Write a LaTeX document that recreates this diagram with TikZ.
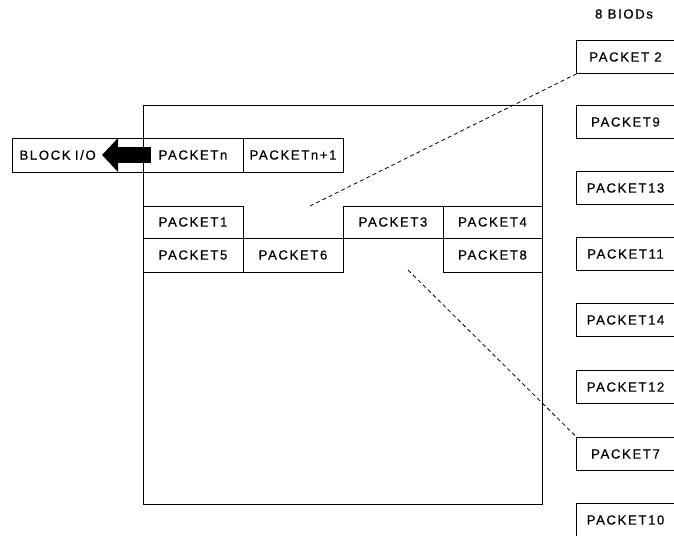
\documentclass[tikz,border=0pt]{standalone}
\usepackage{fontspec}
\setmainfont{Liberation Sans}[LetterSpace=12, FakeBold=0.5]
\usetikzlibrary{arrows.meta}
\begin{document}
\begin{tikzpicture}[x=1pt,y=-1pt,
  every node/.style={font=\fontsize{13.2}{15}\selectfont, inner sep=0pt},
  cell/.style={draw, line width=0.9pt, minimum width=100pt, minimum height=#1},
  cell/.default=34pt,
  side/.style={minimum width=97pt, minimum height=33pt},
  edge/.style={line width=0.9pt},
  dline/.style={dashed, line width=0.8pt, dash pattern=on 4pt off 3pt}]
\useasboundingbox (0,0) rectangle (674,535);
% big frame
\node[draw, line width=0.9pt, minimum width=399pt, minimum height=399pt] (mem) at (342.5,304.5) {};
% top row
\node[cell, text width=116pt, inner xsep=7.5pt, align=left] (blk) at (77.5,155) {BLOCK I/O};
\node[cell] (pn) at (193,155) {PACKETn};
\node[cell] (pn1) at (293,155) {PACKETn+1};
% middle rows
\node[cell=32pt] (p1) at (193,222) {PACKET1};
\node[cell=32pt] (p3) at (393,222) {PACKET3};
\node[cell=32pt, minimum width=99pt] (p4) at (492.5,222) {PACKET4};
\node[cell] (p5) at (193,255) {PACKET5};
\node[cell] (p6) at (293,255) {PACKET6};
\node[cell, minimum width=99pt] (p8) at (492.5,255) {PACKET8};
% arrow
\coordinate (atail) at (151,155);
\coordinate (atip) at (102,155);
\draw[line width=16pt, -{Triangle[length=16pt,width=33pt]}] (atail) -- (atip);
% right column
\node (title) at (624,14) {8 BIODs};
\foreach \n/\t/\c in {r2/PACKET 2/57, r9/PACKET9/122, r13/PACKET13/188, r11/PACKET11/254,
  r14/PACKET14/320, r12/PACKET12/387, r7/PACKET7/454, r10/PACKET10/520} {
  \node[side] (\n) at (625.5,\c) {\t};
  \draw[edge] (\n.north east) -- (\n.north west) -- (\n.south west) -- (\n.south east);
}
% dashed connectors
\coordinate (d1) at (310,206);
\coordinate (d2) at (408,270);
\draw[dline] (r2.south west) -- (d1);
\draw[dline] (d2) -- (r7.north west);
\end{tikzpicture}
\end{document}
